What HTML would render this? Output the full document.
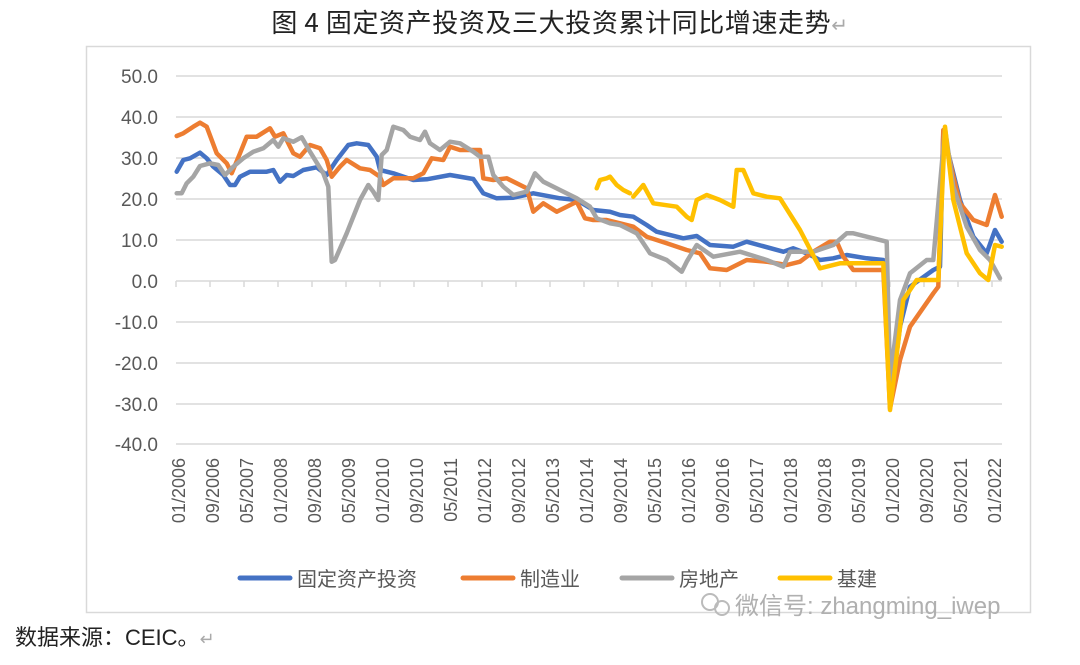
<!DOCTYPE html>
<html><head><meta charset="utf-8"><style>
body{margin:0;background:#fff;width:1080px;height:660px;overflow:hidden;font-family:"Liberation Sans","Noto Sans CJK SC",sans-serif;}
</style></head><body>
<svg width="1080" height="660" xmlns="http://www.w3.org/2000/svg" font-family="Liberation Sans, Noto Sans CJK SC, sans-serif">
<text x="560" y="32" text-anchor="middle" font-size="26" fill="#222" font-family="Noto Sans CJK SC, sans-serif" letter-spacing="0.6">图 4  固定资产投资及三大投资累计同比增速走势<tspan fill="#aaa" font-size="20">↵</tspan></text>
<rect x="86.5" y="46.5" width="944" height="566" fill="none" stroke="#d9d9d9" stroke-width="1.5"/>
<g stroke="#d9d9d9" stroke-width="1.5">
<line x1="176" y1="76" x2="1002" y2="76"/><line x1="176" y1="117" x2="1002" y2="117"/><line x1="176" y1="158" x2="1002" y2="158"/><line x1="176" y1="199" x2="1002" y2="199"/><line x1="176" y1="240" x2="1002" y2="240"/><line x1="176" y1="281" x2="1002" y2="281"/><line x1="176" y1="322" x2="1002" y2="322"/><line x1="176" y1="363" x2="1002" y2="363"/><line x1="176" y1="404" x2="1002" y2="404"/><line x1="176" y1="444" x2="1002" y2="444"/>
</g>
<g stroke="#d9d9d9" stroke-width="1.5">
<line x1="176" y1="281" x2="176" y2="287"/><line x1="210" y1="281" x2="210" y2="287"/><line x1="244" y1="281" x2="244" y2="287"/><line x1="278" y1="281" x2="278" y2="287"/><line x1="312" y1="281" x2="312" y2="287"/><line x1="346" y1="281" x2="346" y2="287"/><line x1="380" y1="281" x2="380" y2="287"/><line x1="414" y1="281" x2="414" y2="287"/><line x1="448" y1="281" x2="448" y2="287"/><line x1="482" y1="281" x2="482" y2="287"/><line x1="516" y1="281" x2="516" y2="287"/><line x1="550" y1="281" x2="550" y2="287"/><line x1="584" y1="281" x2="584" y2="287"/><line x1="618" y1="281" x2="618" y2="287"/><line x1="652" y1="281" x2="652" y2="287"/><line x1="686" y1="281" x2="686" y2="287"/><line x1="720" y1="281" x2="720" y2="287"/><line x1="754" y1="281" x2="754" y2="287"/><line x1="788" y1="281" x2="788" y2="287"/><line x1="822" y1="281" x2="822" y2="287"/><line x1="856" y1="281" x2="856" y2="287"/><line x1="890" y1="281" x2="890" y2="287"/><line x1="924" y1="281" x2="924" y2="287"/><line x1="958" y1="281" x2="958" y2="287"/><line x1="992" y1="281" x2="992" y2="287"/>
</g>
<g font-size="19" fill="#595959" text-anchor="end">
<text x="158" y="83">50.0</text><text x="158" y="124">40.0</text><text x="158" y="165">30.0</text><text x="158" y="206">20.0</text><text x="158" y="247">10.0</text><text x="158" y="288">0.0</text><text x="158" y="329">-10.0</text><text x="158" y="370">-20.0</text><text x="158" y="411">-30.0</text><text x="158" y="451">-40.0</text>
</g>
<g font-size="18" fill="#595959" text-anchor="end">
<text transform="translate(185,458) rotate(-90)">01/2006</text>
<text transform="translate(219,458) rotate(-90)">09/2006</text>
<text transform="translate(253,458) rotate(-90)">05/2007</text>
<text transform="translate(287,458) rotate(-90)">01/2008</text>
<text transform="translate(321,458) rotate(-90)">09/2008</text>
<text transform="translate(355,458) rotate(-90)">05/2009</text>
<text transform="translate(389,458) rotate(-90)">01/2010</text>
<text transform="translate(423,458) rotate(-90)">09/2010</text>
<text transform="translate(457,458) rotate(-90)">05/2011</text>
<text transform="translate(491,458) rotate(-90)">01/2012</text>
<text transform="translate(525,458) rotate(-90)">09/2012</text>
<text transform="translate(559,458) rotate(-90)">05/2013</text>
<text transform="translate(593,458) rotate(-90)">01/2014</text>
<text transform="translate(627,458) rotate(-90)">09/2014</text>
<text transform="translate(661,458) rotate(-90)">05/2015</text>
<text transform="translate(695,458) rotate(-90)">01/2016</text>
<text transform="translate(729,458) rotate(-90)">09/2016</text>
<text transform="translate(763,458) rotate(-90)">05/2017</text>
<text transform="translate(797,458) rotate(-90)">01/2018</text>
<text transform="translate(831,458) rotate(-90)">09/2018</text>
<text transform="translate(865,458) rotate(-90)">05/2019</text>
<text transform="translate(899,458) rotate(-90)">01/2020</text>
<text transform="translate(933,458) rotate(-90)">09/2020</text>
<text transform="translate(967,458) rotate(-90)">05/2021</text>
<text transform="translate(1001,458) rotate(-90)">01/2022</text>
</g>
<g fill="none" stroke-width="4.5" stroke-linejoin="round" stroke-linecap="round">
<polyline stroke="#4472c4" points="176.7,171.7 183.3,160 190,158.3 200,152.7 206.7,158.3 213.3,166.7 223.3,175 230,185 235,185 240,176.7 250,171.7 266.7,171.7 273.3,170 280,181.7 286.7,175 293.3,176 303.3,170 316.7,167.3 326.7,175 336.7,160 348.3,145 356.7,143.3 368.3,145 376.7,156.7 380,170 393.3,173.3 413.3,180 426.7,179.3 450,175 473.3,179 483.3,193.3 496.7,198.3 513.3,197.7 533.3,193.3 560,198.3 576.7,200 593.3,210 610,211.7 620,215 633.3,216.7 646.7,225 656.7,231.7 683.3,238.3 696.7,236 710,245 733.3,246.7 746.7,241.7 783.3,251.7 793.3,248.3 806.7,253.3 820,260 833.3,258.3 846.7,255 866.7,258.3 883.3,260 886.7,263.3 890,406.7 900,326.7 910,286.7 933.3,270 940,266.7 943.3,133.3 946.7,146.7 960,200 973.3,236.7 986.7,253.3 995,230 1001.7,241.7"/>
<polyline stroke="#ed7d31" points="176.7,136 183.3,133.3 193.3,126.7 200,122.7 206.7,126.7 216.7,153.3 226.7,163.3 231.7,173.3 240,153.3 246.7,136.7 256.7,136.7 270,128.3 275,136.7 283.3,133.3 293.3,153.3 300,156.7 310,145 320,148.3 326.7,160 331.7,176.7 340,166.7 346.7,160 360,168.3 370,170 380,176.7 383.3,185 393.3,178.3 413.3,178.3 423.3,173.3 431.7,158.3 443.3,160 450,146.7 460,150 480,150 483.3,178.3 493.3,180 506.7,178.3 526.7,188.3 533.3,211.7 543.3,203.3 556.7,211.7 576.7,201.7 585,218.3 593.3,220 606.7,220 620,223.3 633.3,226.7 646.7,236.7 666.7,243.3 686.7,250 700,253.3 710,268.3 726.7,270 746.7,260 766.7,261.7 786.7,265 800,261.7 813.3,251.7 830,241.7 836.7,241.7 843.3,256.7 853.3,270 883.3,270 890,408.3 900,360 910,326.7 933.3,293.3 938.3,286.7 943.3,130 953.3,176.7 960,203.3 973.3,220 986.7,225 995,195 1001.7,216.7"/>
<polyline stroke="#a5a5a5" points="176.7,193.3 181.7,193.3 186.7,183.3 193.3,176.7 200,166 210,163.3 218.3,165 225,175 233.3,166.7 243.3,158.3 253.3,151.7 263.3,148.3 273.3,140 278.3,146.7 283.3,138.3 293.3,141.7 301.7,137.3 310,151.7 323.3,173.3 328.3,186.7 331.7,261.7 335,260 346.7,233.3 360,200 368.3,185 373.3,191.7 378.3,200 381.7,155 386.7,150 393.3,126.7 403.3,130 410,136.7 420,140 425,131.7 430,143.3 440,150 450,141.7 460,143.3 473.3,151.7 480,156.7 488.3,156.7 493.3,175 503.3,186.7 513.3,195 526.7,191.7 535,173.3 543.3,181.7 560,190 576.7,198.3 590,206.7 596.7,218.3 610,223.3 620,225 636.7,233.3 650,253.3 666.7,260 681.7,271.7 686.7,261.7 696.7,245 713.3,256.7 740,251.7 766.7,260 783.3,266.7 790,251.7 813.3,251.7 833.3,245 846.7,233.3 853.3,233.3 873.3,238.3 886.7,241.7 890,380 900,300 910,273.3 926.7,260 933.3,260 945,128.3 953.3,186.7 966.7,226.7 980,250 990,260 1000,278.3"/>
<polyline stroke="#ffc000" points="596.7,188.3 600,180 606.7,178.3 610,176.7 616.7,185 623.3,190 630,193.3"/>
<polyline stroke="#ffc000" points="633.3,196.7 643.3,185 653.3,203.3 676.7,206.7 686.7,216.7 691.7,220 696.7,200 706.7,195 720,200 733.3,206.7 736.7,170 743.3,170 753.3,193.3 766.7,196.7 780,198.3 800,230 820,268.3 840,263.3 866.7,263.3 883.3,263.3 890,410 903.3,300 916.7,280 938.3,280 945,126.7 953.3,200 966.7,253.3 980,273.3 988.3,280 995,245 1001.7,246.7"/>
</g>
<g stroke-width="5" stroke-linecap="round">
<line x1="240" y1="578" x2="290" y2="578" stroke="#4472c4"/>
<line x1="463" y1="578" x2="513" y2="578" stroke="#ed7d31"/>
<line x1="622" y1="578" x2="672" y2="578" stroke="#a5a5a5"/>
<line x1="780" y1="578" x2="830" y2="578" stroke="#ffc000"/>
</g>
<g font-size="20" fill="#595959">
<text x="297" y="586">固定资产投资</text><text x="520" y="586">制造业</text><text x="679" y="586">房地产</text><text x="837" y="586">基建</text>
</g>
<g fill="none" stroke="#bbb" stroke-width="2"><circle cx="710" cy="602" r="8"/><circle cx="722" cy="608" r="7"/></g>
<text x="735" y="614" font-size="24" fill="#b0b0b0">微信号: zhangming_iwep</text>
<text x="15" y="645" font-size="22" fill="#222">数据来源：CEIC。<tspan fill="#aaa" font-size="18">↵</tspan></text>
</svg>
</body></html>
